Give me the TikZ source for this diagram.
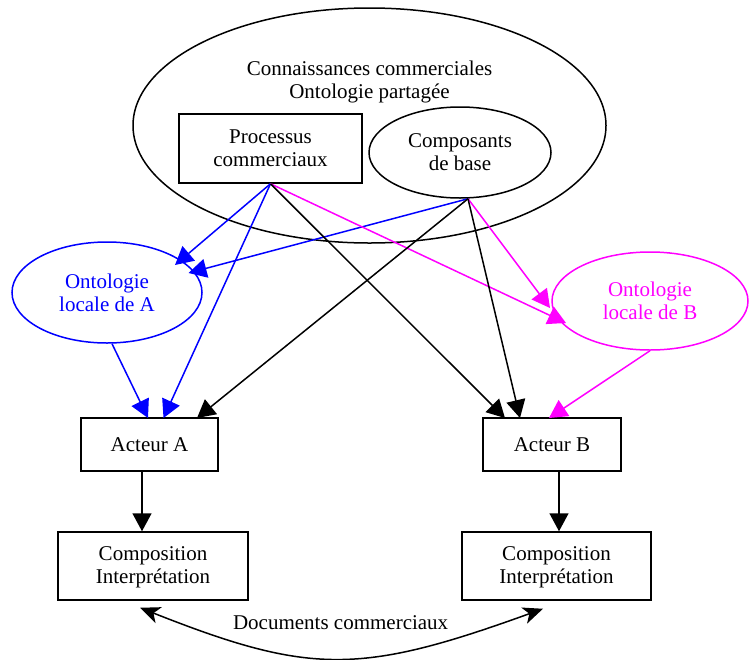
\documentclass[tikz,border=0pt]{standalone}
\usepackage{fontspec}
\setmainfont{Liberation Serif}
\usetikzlibrary{shapes.geometric,arrows.meta}
\definecolor{ontblue}{HTML}{0000FF}
\definecolor{ontmag}{HTML}{FF00FF}
\tikzset{
  lbl/.style={font=\fontsize{21}{23}\selectfont, align=center, inner sep=0pt},
  boxnode/.style={lbl, draw, rectangle, line width=1.5pt},
  ovalnode/.style={lbl, draw, ellipse, line width=1.5pt},
  link/.style={line width=1.5pt, -{Triangle[length=18pt,width=19pt]}},
  doclink/.style={line width=1.5pt, {Stealth[length=20pt,width=17pt,inset=5.5pt]}-{Stealth[length=20pt,width=17pt,inset=5.5pt]}}
}
\begin{document}
\begin{tikzpicture}[x=1pt,y=-1pt]
\useasboundingbox (0,0) rectangle (749,659);

% shared ontology and its contents
\node[ovalnode, minimum width=473pt, minimum height=235pt] (shared) at (369.5,125.5) {};
\node[lbl] (sharedtitle) at (369.5,82) {Connaissances commerciales\\Ontologie partagée};
\node[boxnode, minimum width=183pt, minimum height=69pt] (proc) at (270.5,148.5) {Processus\\commerciaux};
\node[ovalnode, minimum width=182pt, minimum height=91pt] (comp) at (460,152.5) {Composants\\de base};

% local ontologies
\node[ovalnode, draw=ontblue, text=ontblue, minimum width=190pt, minimum height=101pt] (ontA) at (107,292.5) {Ontologie\\locale de A};
\node[ovalnode, draw=ontmag, text=ontmag, minimum width=196pt, minimum height=98pt] (ontB) at (650,301) {Ontologie\\locale de B};

% actors
\node[boxnode, minimum width=137pt, minimum height=53pt] (actA) at (149.5,444.5) {Acteur A};
\node[boxnode, minimum width=138pt, minimum height=53pt] (actB) at (552,444.5) {Acteur B};

% composition / interpretation
\node[boxnode, minimum width=190pt, minimum height=68pt] (compA) at (153,566) {\rule{0pt}{17pt}Composition\\Interprétation};
\node[boxnode, minimum width=189pt, minimum height=68pt] (compB) at (556.5,566) {\rule{0pt}{17pt}Composition\\Interprétation};

% emission point under the base components
\coordinate (compout) at ([shift={(8,0)}]comp.south);

% links into the local ontology of A
\draw[link, ontblue] (proc.south) -- ([shift={(68,-27.5)}]ontA.center);
\draw[link, ontblue] (compout) -- ([shift={(81.5,-19.5)}]ontA.center);
\draw[link, ontblue] (proc.south) -- ([shift={(14,-26.5)}]actA.center);
\draw[link, ontblue] ([shift={(5,0)}]ontA.south) -- ([shift={(-1.5,-26.5)}]actA.center);

% links into the local ontology of B
\draw[link, ontmag] (proc.south) -- ([shift={(-84,22)}]ontB.center);
\draw[link, ontmag] (compout) -- ([shift={(-100,7)}]ontB.center);
\draw[link, ontmag] (ontB.south) -- ([shift={(-3,-26.5)}]actB.center);

% shared knowledge to actors
\draw[link] (compout) -- ([shift={(47.5,-26.5)}]actA.center);
\draw[link] (proc.south) -- ([shift={(-47,-26.5)}]actB.center);
\draw[link] (compout) -- ([shift={(-32,-26.5)}]actB.center);

% actors to composition
\draw[link] ([shift={(-7.5,0)}]actA.south) -- ([shift={(-11,0)}]compA.north);
\draw[link] ([shift={(7,0)}]actB.south) -- ([shift={(2.5,0)}]compB.north);

% exchanged documents
\draw[doclink] ([shift={(-13,7)}]compA.south) .. controls (310,675) and (360,675) .. ([shift={(-13.5,8)}]compB.south)
  node[pos=0.5, lbl, anchor=base, yshift=29pt, xshift=4pt] (docs) {Documents commerciaux};
\end{tikzpicture}
\end{document}
